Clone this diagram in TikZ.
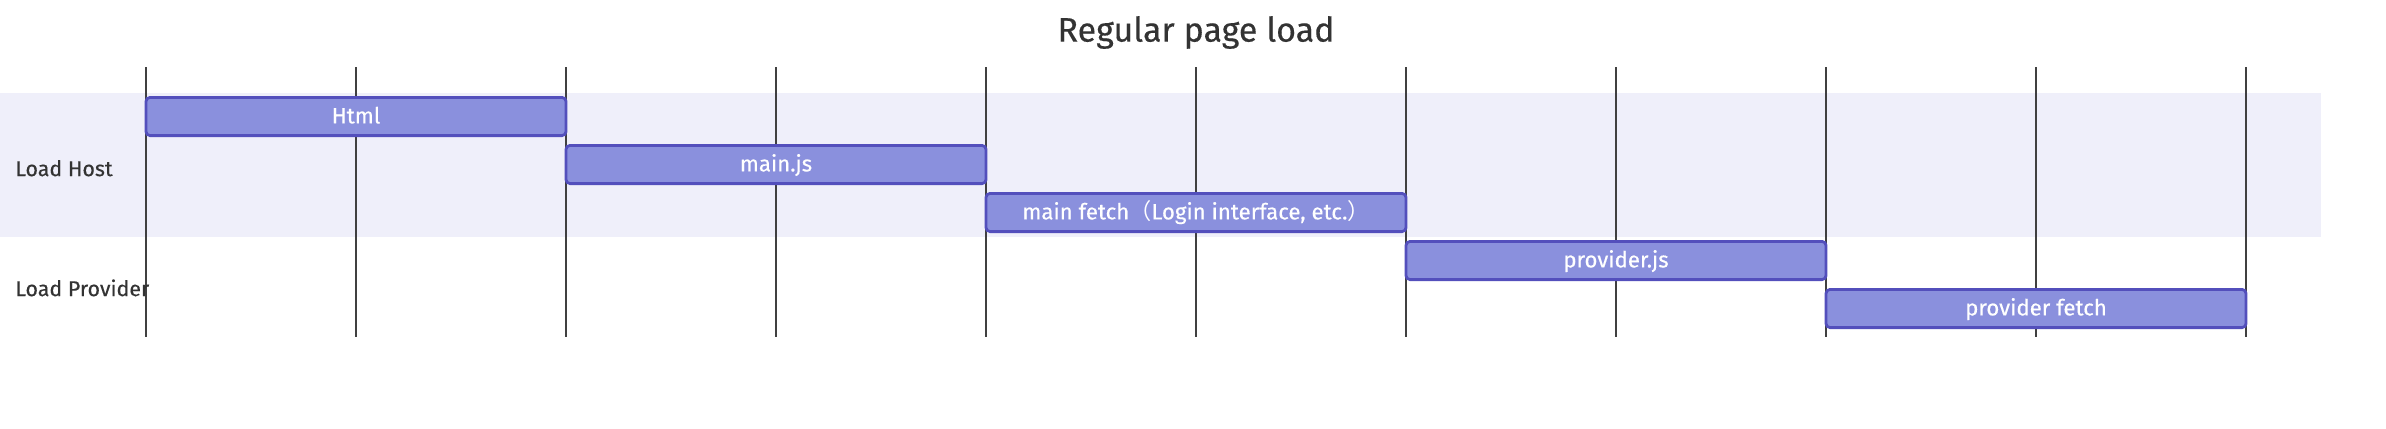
\documentclass[tikz,border=0pt]{standalone}
\usepackage{fontspec}
\setmainfont{Fira Sans}[FakeBold=0.35]
\newfontfamily\cjk{Noto Sans CJK SC}
\usetikzlibrary{positioning}

\definecolor{taskfill}{HTML}{8A90DD}
\definecolor{taskline}{HTML}{534FBC}
\definecolor{sectionfill}{HTML}{EFEFFA}
\definecolor{labeltext}{HTML}{333333}

\begin{document}
\begin{tikzpicture}[x=0.5pt, y=-0.5pt]

    % Define styles
    \tikzset{
        task bar/.style={draw=taskline, fill=taskfill, line width=1.4pt, rounded corners=2pt,
            minimum width=210pt, minimum height=19.1pt, inner sep=0pt, outer sep=0pt,
            anchor=north west, text=white, text height=0.69em, text depth=0pt,
            font=\fontsize{11.1}{12}\selectfont},
        grid line/.style={draw=black!75, line width=0.7pt},
        section label/.style={anchor=west, inner sep=0pt, text=labeltext,
            text height=0.69em, text depth=0pt, font=\fontsize{10.7}{12}\selectfont},
        title label/.style={inner sep=0pt, text=labeltext, text height=0.69em, text depth=0pt,
            font=\fontsize{17}{20}\selectfont}
    }

    \useasboundingbox (0,0) rectangle (2386,428);

    % Background band of the first section
    \fill[sectionfill] (0,93) rectangle (2321,237);

    % Vertical grid lines
    \foreach \k in {0,...,10} {
        \draw[grid line] (146+210*\k, 67) -- (146+210*\k, 337);
    }

    % Title
    \node[title label] (title) at (1196, 34.7) {Regular page load};

    % Section labels
    \node[section label] (host) at (15, 169.2) {Load Host};
    \node[section label] (provider) at (15, 289.2) {Load Provider};

    % Task bars, each one starts where the previous one ends
    \node[task bar] (html) at (146, 97.4) {Html};
    \node[task bar, below right=4.9pt and 0pt of html] (mainjs) {main.js};
    \node[task bar, below right=4.9pt and 0pt of mainjs] (mainfetch)
        {main fetch{\cjk （}Login interface, etc.{\cjk ）}};
    \node[task bar, below right=4.9pt and 0pt of mainfetch] (providerjs) {provider.js};
    \node[task bar, below right=4.9pt and 0pt of providerjs] (providerfetch) {provider fetch};

\end{tikzpicture}
\end{document}
